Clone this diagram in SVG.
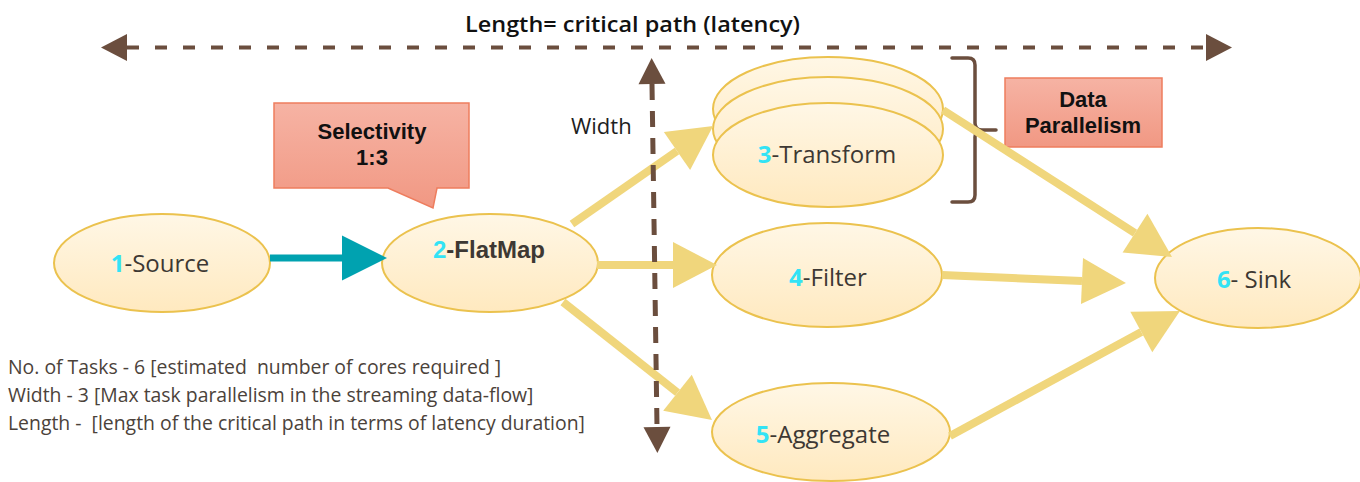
<svg xmlns="http://www.w3.org/2000/svg" width="1360" height="482" viewBox="0 0 1360 482">
  <defs>
    <style>
      .node { fill: url(#nodeFill); stroke: #EBC24E; stroke-width: 2; }
      .label { font-family: "Open Sans", "DejaVu Sans", sans-serif; font-size: 24px; fill: #3D3833; text-anchor: middle; }
      .num { fill: #33E3F5; font-weight: bold; }
      .bold { font-family: "Liberation Sans", Arial, sans-serif; font-weight: bold; }
      .flow { stroke: #F0D67C; stroke-width: 8; fill: none; marker-end: url(#headYellow); }
      .dim { stroke: #6B4E3E; fill: none; }
      .callout { fill: url(#calloutFill); stroke: #EE7D5E; stroke-width: 1.5; }
      .callText { font-family: "Liberation Sans", Arial, sans-serif; font-weight: bold; font-size: 22px; fill: #111; text-anchor: middle; }
      .note { font-family: "Open Sans", "DejaVu Sans", sans-serif; font-size: 19.4px; fill: #4B423A; white-space: pre; }
    </style>
    <linearGradient id="nodeFill" x1="0" y1="0" x2="0" y2="1">
      <stop offset="0" stop-color="#FFF7E6"/>
      <stop offset="1" stop-color="#FFE9BF"/>
    </linearGradient>
    <linearGradient id="calloutFill" x1="0" y1="0" x2="0" y2="1">
      <stop offset="0" stop-color="#F6B3A4"/>
      <stop offset="1" stop-color="#F19883"/>
    </linearGradient>
    <marker id="headYellow" markerUnits="userSpaceOnUse" markerWidth="46" markerHeight="46" refX="0" refY="23" orient="auto" overflow="visible">
      <path d="M0,0 L44,23 L0,46 Z" fill="#F0D67C"/>
    </marker>
    <marker id="headTeal" markerUnits="userSpaceOnUse" markerWidth="46" markerHeight="46" refX="0" refY="22.5" orient="auto" overflow="visible">
      <path d="M0,0 L45,22.5 L0,45 Z" fill="#00A2B0"/>
    </marker>
    <marker id="headBrown" markerUnits="userSpaceOnUse" markerWidth="28" markerHeight="28" refX="0" refY="13.5" orient="auto-start-reverse" overflow="visible">
      <path d="M0,0 L26,13.5 L0,27 Z" fill="#6B4E3E"/>
    </marker>
  </defs>

  <rect width="1360" height="482" fill="#FFFFFF"/>

  <!-- operator nodes -->
  <g id="source">
    <ellipse class="node" cx="162" cy="263" rx="108" ry="49"/>
    <text class="label" x="160" y="272"><tspan class="num">1</tspan>-Source</text>
  </g>
  <g id="flatmap">
    <ellipse class="node" cx="490" cy="263" rx="108" ry="49"/>
    <text class="label bold" x="489" y="258" font-size="25"><tspan class="num">2</tspan>-FlatMap</text>
  </g>
  <g id="transform">
    <ellipse class="node" cx="828" cy="109" rx="115" ry="52"/>
    <ellipse class="node" cx="828" cy="129" rx="115" ry="52"/>
    <ellipse class="node" cx="828" cy="155" rx="115" ry="52"/>
    <text class="label" x="827" y="163" font-family="Roboto, 'Open Sans', sans-serif" font-size="25" font-weight="500"><tspan class="num">3</tspan>-Transform</text>
  </g>
  <g id="filter">
    <ellipse class="node" cx="827" cy="275" rx="115" ry="52"/>
    <text class="label" x="828" y="286"><tspan class="num">4</tspan>-Filter</text>
  </g>
  <g id="aggregate">
    <ellipse class="node" cx="831" cy="432" rx="119" ry="49"/>
    <text class="label" x="823" y="443"><tspan class="num">5</tspan>-Aggregate</text>
  </g>
  <g id="sink">
    <ellipse class="node" cx="1258" cy="278" rx="103" ry="50"/>
    <text class="label" x="1254" y="288"><tspan class="num">6</tspan>- Sink</text>
  </g>

  <!-- annotations -->
  <g id="selectivity">
    <path class="callout" d="M274,103 H469 V188 H437 L433,208 L388,188 H274 Z"/>
    <text class="callText" x="372" y="139">Selectivity</text>
    <text class="callText" x="372" y="165">1:3</text>
  </g>
  <g id="data-parallelism">
    <rect class="callout" x="1005" y="78" width="157" height="69"/>
    <text class="callText" x="1083" y="107">Data</text>
    <text class="callText" x="1083" y="133">Parallelism</text>
    <path class="dim" stroke-width="3.5" stroke-linecap="round" d="M952,58 H968 Q975,58 975,65 V123 Q975,130 982,130 H996 M982,130 Q975,130 975,137 V195 Q975,202 968,202 H952"/>
  </g>

  <!-- data-flow connectors -->
  <g id="connectors">
    <line x1="270" y1="258" x2="342" y2="258" stroke="#00A2B0" stroke-width="7" marker-end="url(#headTeal)"/>
    <line class="flow" x1="572" y1="224" x2="677" y2="151"/>
    <line class="flow" x1="597" y1="265" x2="673" y2="265"/>
    <line class="flow" x1="563" y1="302" x2="677.5" y2="392.7"/>
    <line class="flow" x1="943" y1="110" x2="1135" y2="233.2"/>
    <line class="flow" x1="942" y1="275" x2="1082" y2="281.1"/>
    <line class="flow" x1="950" y1="436" x2="1141.3" y2="332"/>
  </g>

  <!-- length and width dimensions -->
  <g id="dimensions">
    <line class="dim" x1="127" y1="47.5" x2="1206" y2="47.5" stroke-width="4" stroke-dasharray="12 16" marker-start="url(#headBrown)" marker-end="url(#headBrown)"/>
    <line class="dim" x1="652" y1="84" x2="657" y2="427" stroke-width="5" stroke-dasharray="16 11" marker-start="url(#headBrown)" marker-end="url(#headBrown)"/>
    <text x="465" y="32" font-family="Open Sans, DejaVu Sans, sans-serif" font-weight="600" font-size="22" fill="#111" textLength="335" lengthAdjust="spacingAndGlyphs">Length= critical path (latency)</text>
    <text x="571" y="134" font-family="Open Sans, DejaVu Sans, sans-serif" font-size="22" fill="#1E1E1E">Width</text>
  </g>

  <!-- legend -->
  <g id="legend">
    <text class="note" x="8" y="374">No. of Tasks - 6 [estimated  number of cores required ]</text>
    <text class="note" x="8" y="402">Width - 3 [Max task parallelism in the streaming data-flow]</text>
    <text class="note" x="8" y="430">Length -  [length of the critical path in terms of latency duration]</text>
  </g>
</svg>
